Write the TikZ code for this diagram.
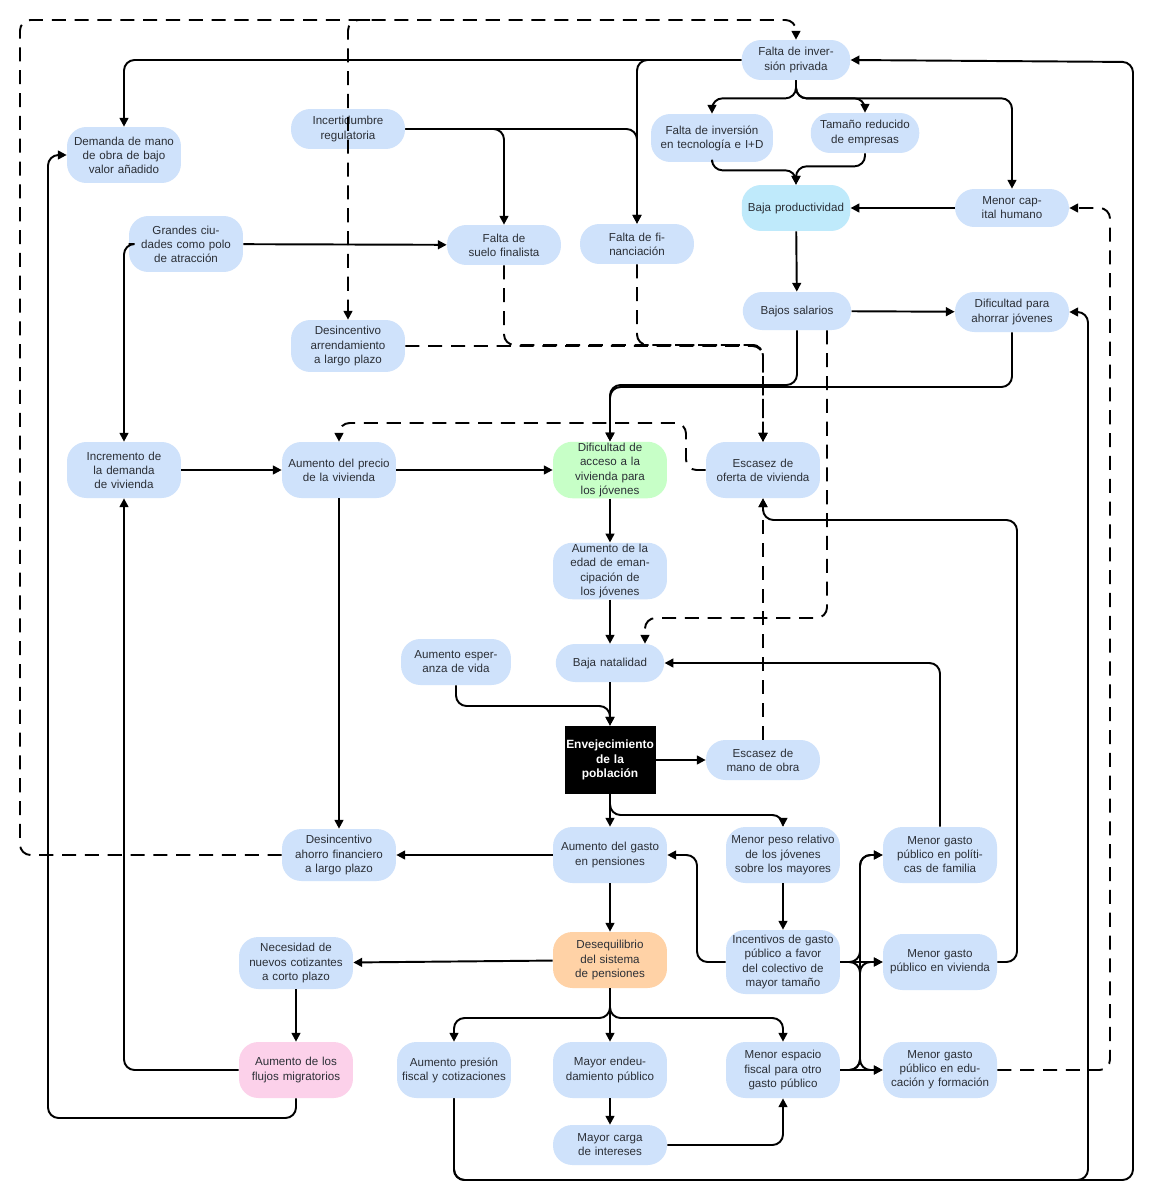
\documentclass[tikz,border=0pt]{standalone}
\usepackage{fontspec}
\setmainfont{Liberation Sans}
\usetikzlibrary{arrows.meta}
\definecolor{bx}{HTML}{CFE2FB}
\definecolor{tx}{HTML}{2B2F36}
\begin{document}
\begin{tikzpicture}[x=0.02cm,y=-0.02cm,
 box/.style={fill=bx,draw=none,rounded corners=11pt,minimum width=2.28cm,minimum height=1.12cm,text width=2.1cm,align=center,inner sep=1pt,font=\fontsize{6.6}{8}\selectfont,text=tx},
 sm/.style={minimum height=0.8cm},
 a/.style={draw=black,line width=1.1pt,rounded corners=6pt,-{Triangle[length=5pt,width=5pt]}},
 d/.style={a,dash pattern=on 8pt off 5pt}]
\useasboundingbox (0,0) rectangle (1154,1200);
\fill[white] (0,0) rectangle (1154,1200);
\node[box,sm,minimum width=2.08cm] (inv) at (796,60) {Falta de inversión privada};
\node[box] (dem) at (124,155) {Demanda de mano de obra de bajo valor añadido};
\node[box,sm] (inc) at (348,129) {Incertidumbre regulatoria};
\node[box,minimum width=2.44cm,text width=2.3cm,minimum height=0.96cm] (tec) at (712,138) {Falta de inversión en tecnología e I+D};
\node[box,sm,minimum width=2.08cm] (tam) at (865,133) {Tamaño reducido de empresas};
\node[box,fill=cyan!25,minimum width=2.0cm,minimum height=0.92cm] (baja) at (796,208) {Baja productividad};
\node[box,sm,minimum height=0.76cm] (cap) at (1012,208) {Menor capital humano};
\node[box] (gc) at (186,244) {Grandes ciudades como polo de atracción};
\node[box,sm] (suelo) at (504,245) {Falta de suelo finalista};
\node[box,sm] (fin) at (637,244) {Falta de financiación};
\node[box,sm,minimum width=1.92cm,minimum height=0.76cm] (sal) at (797,311) {Bajos salarios};
\node[box,sm] (ahorrar) at (1012,312) {Dificultad para ahorrar jóvenes};
\node[box,minimum height=1.04cm] (desinc) at (348,346) {Desincentivo arrendamiento a largo plazo};
\node[box] (incdem) at (124,470) {Incremento de la demanda de vivienda};
\node[box] (precio) at (339,470) {Aumento del precio de la vivienda};
\node[box,fill=green!22] (dif) at (610,470) {Dificultad de acceso a la vivienda para los jóvenes};
\node[box] (esc) at (763,470) {Escasez de oferta de vivienda};
\node[box] (edad) at (610,571) {Aumento de la edad de emancipación de los jóvenes};
\node[box,minimum width=2.2cm,minimum height=0.92cm] (esp) at (456,662) {Aumento esperanza de vida};
\node[box,minimum width=1.96cm,minimum height=0.76cm] (nat) at (610,663) {Baja natalidad};
\node[fill=black,text=white,minimum width=1.8cm,minimum height=1.36cm,text width=1.75cm,align=center,inner sep=1pt,font=\fontsize{6.8}{8.2}\selectfont\bfseries] (env) at (610,760) {Envejecimiento de la población};
\node[box,sm] (escmo) at (763,760) {Escasez de mano de obra};
\node[box,minimum height=1.04cm] (ahfin) at (339,855) {Desincentivo ahorro financiero a largo plazo};
\node[box] (pens) at (610,855) {Aumento del gasto en pensiones};
\node[box] (peso) at (783,855) {Menor peso relativo de los jóvenes sobre los mayores};
\node[box] (fam) at (940,855) {Menor gasto público en políticas de familia};
\node[box,minimum height=1.04cm] (nec) at (296,963) {Necesidad de nuevos cotizantes a corto plazo};
\node[box,fill=orange!35] (deseq) at (610,960) {Desequilibrio del sistema de pensiones};
\node[box,minimum height=1.28cm] (incent) at (783,962) {Incentivos de gasto público a favor del colectivo de mayor tamaño};
\node[box] (viv) at (940,962) {Menor gasto público en vivienda};
\node[box,fill=magenta!18] (flujos) at (296,1070) {Aumento de los flujos migratorios};
\node[box] (presion) at (454,1070) {Aumento presión fiscal y cotizaciones};
\node[box] (deuda) at (610,1070) {Mayor endeudamiento público};
\node[box] (espacio) at (783,1070) {Menor espacio fiscal para otro gasto público};
\node[box] (edu) at (940,1070) {Menor gasto público en educación y formación};
\node[box,sm] (intereses) at (610,1145) {Mayor carga de intereses};
\coordinate (j1) at (370,20);
% solid
\draw[a] (inv.west) -| (dem.north);
\draw[a] (inv.west) -| (fin.north);
\draw[a] (inv.south) -- ++(0,18) -| (tec.north);
\draw[a] (inv.south) -- ++(0,18) -| (tam.north);
\draw[a] (inv.south) -- ++(0,18) -| (cap.north);
\draw[a] (tec.south) -- ++(0,8) -| (baja.north);
\draw[a] (tam.south) -- ++(0,13) -| (baja.north);
\draw[a] (cap.west) -- (baja.east);
\draw[a] (baja) -- (sal);
\draw[a] (sal) -- (ahorrar);
\draw[a] (inc.east) -| (suelo.north);
\draw[a] (inc.east) -| (fin.north);
\draw[a] (gc) -- (suelo);
\draw[a] (gc.west) -| (incdem.north);
\draw[a] (sal.south) -- (797,385) -| (dif.north);
\draw[a] (ahorrar.south) -- (1012,387) -| (dif.north);
\draw[a] (incdem) -- (precio);
\draw[a] (precio) -- (dif);
\draw[a] (dif) -- (edad);
\draw[a] (edad) -- (nat);
\draw[a] (nat) -- (env);
\draw[a] (esp.south) -- (456,706) -| (env.north);
\draw[a] (env) -- (escmo);
\draw[a] (env) -- (pens);
\draw[a] (env.south) -- (610,815) -| (peso.north);
\draw[a] (precio.south) -- (ahfin.north);
\draw[a] (pens) -- (ahfin);
\draw[a] (pens) -- (deseq);
\draw[a] (peso) -- (incent);
\draw[a] (incent.west) -- (697,962) |- (pens.east);
\draw[a] (incent.east) -- (860,962) |- (fam.west);
\draw[a] (incent.east) -- (viv.west);
\draw[a] (incent.east) -- (860,962) |- (edu.west);
\draw[a] (espacio.east) -- (860,1070) |- (fam.west);
\draw[a] (espacio.east) -- (860,1070) |- (viv.west);
\draw[a] (espacio.east) -- (edu.west);
\draw[a] (fam.north) |- (nat.east);
\draw[a] (viv.east) -| (1017,520) -| (esc.south);
\draw[a] (deseq) -- (nec);
\draw[a] (nec) -- (flujos);
\draw[a] (deseq.south) -- (610,1018) -| (presion.north);
\draw[a] (deseq) -- (deuda);
\draw[a] (deseq.south) -- (610,1018) -| (espacio.north);
\draw[a] (deuda) -- (intereses);
\draw[a] (intereses.east) -| (espacio.south);
\draw[a] (flujos.west) -| (incdem.south);
\draw[a] (flujos.south) -- (296,1118) -| (48,155) -- (dem.west);
\draw[a] (presion.south) -- (454,1180) -| (1088,312) -- (ahorrar.east);
\draw[a] (presion.south) -- (454,1180) -| (1133,62) -- (inv.east);
% dashed
\draw[d] (ahfin.west) -| (20,20) -| (inv.north);
\draw[d] (j1) -- (348,20) -- (desinc.north);
\draw[d] (suelo.south) -- (504,345) -| (esc.north);
\draw[d] (fin.south) -- (637,345) -| (esc.north);
\draw[d] (desinc.east) -| (esc.north);
\draw[d] ([xshift=0.6cm]sal.south) -- (827,618) -| ([xshift=0.7cm]nat.north);
\draw[d] (esc.west) -| (686,423) -| (precio.north);
\draw[d] (escmo.north) -- (esc.south);
\draw[d] (edu.east) -| (1110,208) -- (cap.east);
\end{tikzpicture}
\end{document}
